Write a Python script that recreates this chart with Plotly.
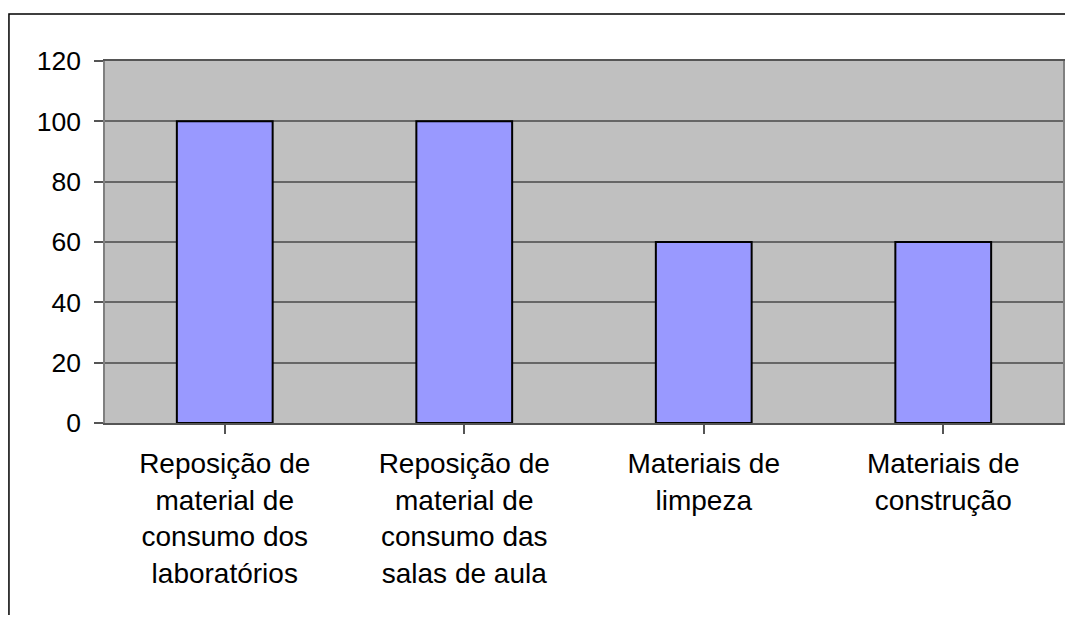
import plotly.graph_objects as go

categories = [
    "Reposição de<br>material de<br>consumo dos<br>laboratórios",
    "Reposição de<br>material de<br>consumo das<br>salas de aula",
    "Materiais de<br>limpeza",
    "Materiais de<br>construção",
]
values = [100, 100, 60, 60]
y_ticks = [0, 20, 40, 60, 80, 100, 120]

# page has an 8px body margin, so the figure is sized to fit inside it
W, H = 1057, 607
L, R, T, B = 97, 0, 53, 192
pw, ph = W - L - R, H - T - B

fig = go.Figure()
fig.add_trace(go.Bar(
    x=list(range(len(categories))), y=values,
    marker=dict(color="#9999FF", line=dict(color="#000000", width=2)),
    hoverinfo="skip",
))

# outer chart border (left and top visible)
fig.add_shape(type="rect", xref="paper", yref="paper",
              x0=(0.75 - L) / pw, x1=(W + 20 - L) / pw,
              y0=-(H + 20 - (T + ph)) / ph, y1=(T + ph - 6) / ph,
              line=dict(color="#000000", width=1.5), fillcolor="rgba(0,0,0,0)")

fig.update_layout(
    width=W, height=H,
    margin=dict(l=L, r=R, t=T, b=B, pad=0),
    paper_bgcolor="#FFFFFF",
    plot_bgcolor="#C0C0C0",
    showlegend=False,
    bargap=0.6,
    font=dict(family="Liberation Sans, Arial, sans-serif", color="#000000"),
    xaxis=dict(
        tickmode="array", tickvals=list(range(len(categories))), ticktext=categories,
        range=[-0.5, len(categories) - 0.5],
        showgrid=False, zeroline=False,
        showline=True, linecolor="#555555", linewidth=1.5, mirror=True,
        ticks="outside", ticklen=9, tickcolor="#555555", tickwidth=1.5,
        tickfont=dict(size=28), ticklabelstandoff=6,
        tickson="boundaries",
        fixedrange=True,
    ),
    yaxis=dict(
        range=[0, 120], tickmode="array", tickvals=y_ticks,
        ticktext=[str(v) for v in y_ticks],
        showgrid=True, gridcolor="#666666", gridwidth=1.5,
        zeroline=False,
        showline=True, linecolor="#808080", linewidth=1.5, mirror=True,
        ticks="outside", ticklen=9, tickcolor="#555555", tickwidth=1.5,
        tickfont=dict(size=26.5), ticklabelstandoff=8,
        fixedrange=True,
    ),
)

fig.write_html("out.html")
